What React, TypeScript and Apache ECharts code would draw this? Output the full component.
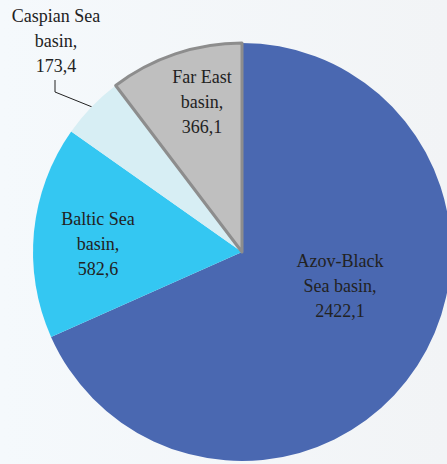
import React, { useEffect, useRef } from "react";
import * as echarts from "echarts";

const names = ["Azov-Black\nSea basin", "Baltic Sea\nbasin", "Caspian Sea\nbasin", "Far East\nbasin"];
const values = [2422.1, 582.6, 173.4, 366.1];
const colors = ["#4A68B1", "#34C7F2", "#D7EEF4", "#BFBFBF"];

const W = 447;
const H = 464;
const CX = 242;
const CY = 252;
const R = 209;
const FONT = "Liberation Serif";
// label centre offsets from the pie centre
const labelOffsets = [
  [98, 34],
  [-144, -8],
  [-186, -211],
  [-40, -150],
];

export default function App() {
  const ref = useRef<HTMLDivElement>(null);
  useEffect(() => {
    if (!ref.current) return;
    const chart = echarts.init(ref.current, undefined, { renderer: "svg" });
    const lab = {
      fontFamily: FONT,
      fontSize: 18,
      lineHeight: 25,
      color: "#222222",
      align: "center",
    };
    const data = names.map((n, i) => ({
      name: n,
      value: values[i],
      itemStyle:
        i === 3
          ? { color: colors[i], borderColor: "#8D8D8D", borderWidth: 3 }
          : { color: colors[i], borderWidth: 0 },
      label: { ...lab, position: i === 2 ? "outside" : "inside" },
      labelLine: { show: i === 2 },
    }));
    chart.setOption({
      animation: false,
      textStyle: { fontFamily: FONT },
      backgroundColor: {
        type: "linear",
        x: 0,
        y: 0,
        x2: 1,
        y2: 0,
        colorStops: [
          { offset: 0, color: "#F5F9FC" },
          { offset: 1, color: "#F2F4F6" },
        ],
      },
      series: [
        {
          type: "pie",
          center: [CX, CY],
          radius: [0, R],
          startAngle: 90,
          clockwise: true,
          avoidLabelOverlap: false,
          data,
          label: {
            show: true,
            ...lab,
            formatter: (p: any) => `${p.name},\n${Number(p.value).toFixed(1).replace(".", ",")}`,
          },
          labelLine: {
            lineStyle: { color: "#222222", width: 1 },
          },
          labelLayout: (p: any) => {
            const o = labelOffsets[p.dataIndex];
            const res: any = {
              x: CX + o[0],
              y: CY + o[1],
              align: "center",
              verticalAlign: "middle",
            };
            if (p.dataIndex === 2 && p.labelLinePoints) {
              const s = p.labelLinePoints[0];
              res.labelLinePoints = [
                [s[0], s[1]],
                [CX - 187, CY - 160],
                [CX - 187, CY - 172],
              ];
            }
            return res;
          },
          emphasis: { disabled: true },
        },
      ],
    });
    return () => chart.dispose();
  }, []);
  return (
    <div
      ref={ref}
      style={{ position: "absolute", left: 0, top: 0, width: W, height: H, fontFamily: FONT }}
    />
  );
}
